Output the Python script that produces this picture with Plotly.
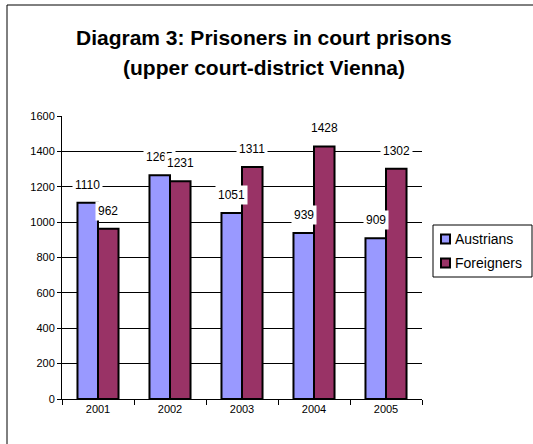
import plotly.graph_objects as go

years = ["2001", "2002", "2003", "2004", "2005"]
austrians = [1110, 1265, 1051, 939, 909]
foreigners = [962, 1231, 1311, 1428, 1302]
series_names = ["Austrians", "Foreigners"]
colors = ["#9999FF", "#993366"]
y_ticks = [0, 200, 400, 600, 800, 1000, 1200, 1400, 1600]
title_lines = ["Diagram 3: Prisoners in court prisons", "(upper court-district Vienna)"]

W, H = 533, 444
L, R, T, B = 62, 422, 116, 399  # plot area in pixels


def px(x):
    return (x - L) / (R - L)


def py(y):
    return (B - y) / (B - T)


FONT = "Arial, 'Liberation Sans', sans-serif"

fig = go.Figure()
for name, vals, col in zip(series_names, [austrians, foreigners], colors):
    fig.add_trace(go.Bar(
        x=years, y=vals, name=name,
        marker=dict(color=col, line=dict(color="black", width=2)),
        showlegend=False, hoverinfo="x+y+name",
    ))

bar_half = 10.25
annotations = []
for shift, vals in [(-bar_half, austrians), (bar_half, foreigners)]:
    for i, v in enumerate(vals):
        annotations.append(dict(
            x=i, y=v, xref="x", yref="y", text=str(v), showarrow=False,
            xshift=shift, yshift=18, yanchor="middle", xanchor="center",
            bgcolor="white", borderpad=2,
            font=dict(family=FONT, size=12, color="black"),
        ))

# title (two lines)
for line, yc in zip(title_lines, [37, 68]):
    annotations.append(dict(
        x=px(264), y=py(yc), xref="paper", yref="paper", showarrow=False,
        xanchor="center", yanchor="middle", text="<b>" + line + "</b>",
        font=dict(family=FONT, size=21, color="black"),
    ))

# custom legend
leg_items = [(series_names[0], colors[0], 239), (series_names[1], colors[1], 263)]
shapes = [
    dict(type="rect", xref="paper", yref="paper", x0=px(7), x1=px(560), y0=py(5), y1=py(470),
         line=dict(color="black", width=1), fillcolor="rgba(0,0,0,0)", layer="below"),
    dict(type="rect", xref="paper", yref="paper", x0=px(433), x1=px(532), y0=py(225), y1=py(277),
         line=dict(color="black", width=1), fillcolor="white"),
]
for name, col, yc in leg_items:
    shapes.append(dict(type="rect", xref="paper", yref="paper",
                       x0=px(441), x1=px(450), y0=py(yc - 4.5), y1=py(yc + 4.5),
                       line=dict(color="black", width=2), fillcolor=col))
    annotations.append(dict(x=px(453), y=py(yc), xref="paper", yref="paper", showarrow=False,
                            xanchor="left", yanchor="middle", text=name,
                            font=dict(family=FONT, size=14, color="black")))

fig.update_layout(
    width=W, height=H,
    margin=dict(l=L, r=W - R, t=T, b=H - B, pad=0),
    paper_bgcolor="white", plot_bgcolor="white",
    barmode="group", bargap=0.43, bargroupgap=0,
    annotations=annotations, shapes=shapes,
    font=dict(family=FONT, size=11, color="black"),
)
fig.update_xaxes(
    type="category", range=[-0.5, 4.5], showline=True, linecolor="black", linewidth=1,
    ticks="outside", ticklen=5, tickcolor="black", tickson="boundaries",
    showgrid=False, tickfont=dict(size=11), tickangle=0,
)
fig.update_yaxes(
    range=[0, 1600], tickvals=y_ticks, showline=True, linecolor="black", linewidth=1,
    ticks="outside", ticklen=4, tickcolor="black", showgrid=True, gridcolor="black",
    gridwidth=1, zeroline=False, tickfont=dict(size=11),
)

fig.write_html("out.html", config={"displayModeBar": False},
               post_script="document.body.style.margin='0';")
